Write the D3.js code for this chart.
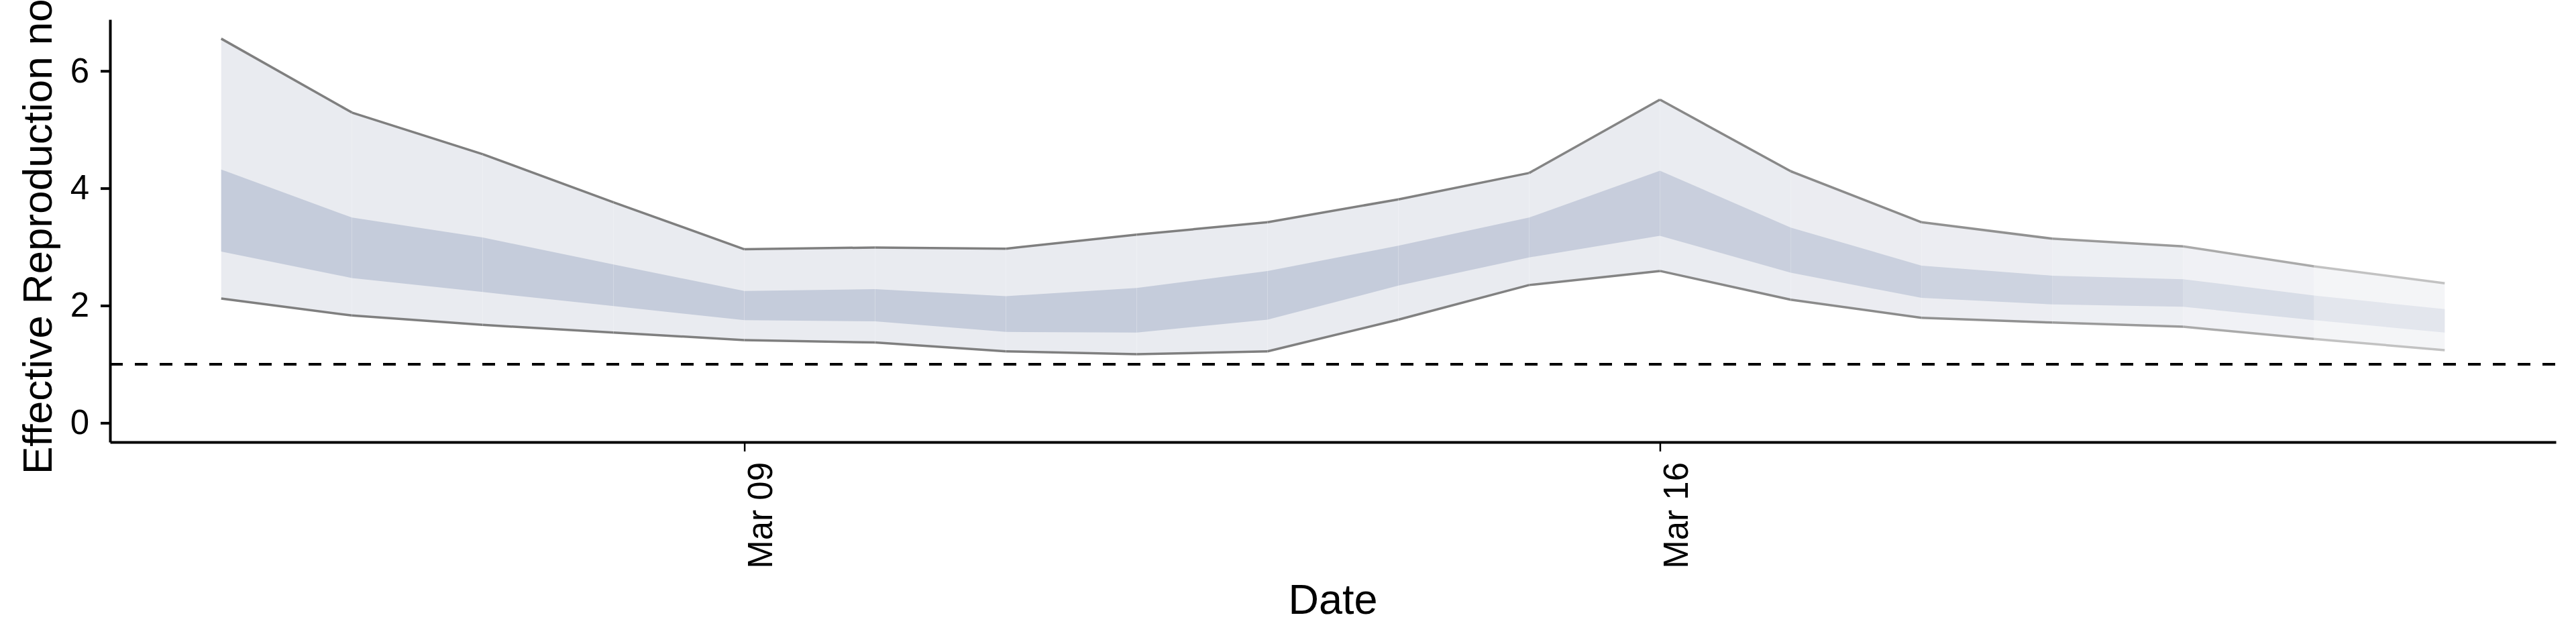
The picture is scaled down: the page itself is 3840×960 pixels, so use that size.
<!DOCTYPE html>
<html>
<head>
<meta charset="utf-8">
<script src="https://cdn.jsdelivr.net/npm/d3@7"></script>
<style>
  html, body { margin: 0; padding: 0; background: #ffffff; }
  svg text { font-family: "Liberation Sans", Arial, Helvetica, sans-serif; fill: #000000; }
</style>
</head>
<body>
<div id="rt-chart"></div>
<script>
// dates of the estimates (Mar 05 - Mar 22)
var dates = ["2020-03-05", "2020-03-06", "2020-03-07", "2020-03-08", "2020-03-09", "2020-03-10",
             "2020-03-11", "2020-03-12", "2020-03-13", "2020-03-14", "2020-03-15", "2020-03-16",
             "2020-03-17", "2020-03-18", "2020-03-19", "2020-03-20", "2020-03-21", "2020-03-22"];

// 90% interval
var upper90 = [6.55, 5.29, 4.58, 3.76, 2.96, 2.99, 2.97, 3.21, 3.42, 3.81, 4.26, 5.51, 4.29, 3.42, 3.14, 3.01, 2.67, 2.38];
var lower90 = [2.12, 1.83, 1.67, 1.54, 1.41, 1.37, 1.22, 1.17, 1.22, 1.76, 2.35, 2.59, 2.10, 1.79, 1.71, 1.64, 1.43, 1.24];

// 50% interval
var upper50 = [4.32, 3.50, 3.16, 2.70, 2.25, 2.28, 2.16, 2.30, 2.59, 3.02, 3.50, 4.30, 3.33, 2.68, 2.51, 2.45, 2.17, 1.94];
var lower50 = [2.92, 2.47, 2.23, 1.99, 1.75, 1.73, 1.55, 1.54, 1.76, 2.34, 2.82, 3.19, 2.56, 2.13, 2.02, 1.98, 1.75, 1.54];

// confidence of each estimate (fades the last days)
var confidence = [1, 1, 1, 1, 1, 1, 1, 1, 1, 0.99, 0.98, 0.96, 0.93, 0.90, 0.86, 0.79, 0.66, 0.47];

// x axis breaks and y axis breaks
var xTickDates = ["2020-03-09", "2020-03-16"];
var yTicks = [0, 2, 4, 6];
var threshold = 1;

(function(){
  var width = 3840, height = 960;
  var margin = {top: 29, right: 30, bottom: 301, left: 164};
  var innerW = width - margin.left - margin.right;
  var innerH = height - margin.top - margin.bottom;

  var parseTime = d3.timeParse("%Y-%m-%d");

  var rows = [];
  for (var i = 0; i < dates.length; i++) {
    rows.push({date: parseTime(dates[i]), top90: upper90[i], bottom90: lower90[i],
               top50: upper50[i], bottom50: lower50[i], conf: confidence[i]});
  }

  var svg = d3.select("#rt-chart").append("svg")
              .attr("width", width)
              .attr("height", height);

  var g = svg.append("g")
             .attr("transform", "translate(" + margin.left + "," + margin.top + ")");

  // ggplot style 5% expansion on both scales
  var xExt = d3.extent(rows, function(d){ return d.date; });
  var xPad = (xExt[1] - xExt[0]) * 0.05;
  var x = d3.scaleTime()
            .domain([new Date(+xExt[0] - xPad), new Date(+xExt[1] + xPad)])
            .range([0, innerW]);

  var yMax = d3.max(upper90), yMin = 0;
  var yPad = (yMax - yMin) * 0.05;
  var y = d3.scaleLinear()
            .domain([yMin - yPad, yMax + yPad])
            .range([innerH, 0]);

  var outerArea = d3.area()
                    .x(function(d){ return x(d.date); })
                    .y0(function(d){ return y(d.bottom90); })
                    .y1(function(d){ return y(d.top90); });
  var innerArea = d3.area()
                    .x(function(d){ return x(d.date); })
                    .y0(function(d){ return y(d.bottom50); })
                    .y1(function(d){ return y(d.top50); });
  var topLine = d3.line()
                  .x(function(d){ return x(d.date); })
                  .y(function(d){ return y(d.top90); });
  var bottomLine = d3.line()
                     .x(function(d){ return x(d.date); })
                     .y(function(d){ return y(d.bottom90); });

  // one piece per day, each faded by its confidence
  for (var j = 0; j < rows.length - 1; j++) {
    var seg = [rows[j], rows[j + 1]];
    var piece = g.append("g").attr("opacity", rows[j + 1].conf);
    piece.append("path").datum(seg).attr("d", outerArea).attr("fill", "#e9ebf0");
    piece.append("path").datum(seg).attr("d", innerArea).attr("fill", "#c5ccdb");
    piece.append("path").datum(seg).attr("d", topLine)
         .attr("fill", "none").attr("stroke", "#7f7f7f").attr("stroke-width", 3.5);
    piece.append("path").datum(seg).attr("d", bottomLine)
         .attr("fill", "none").attr("stroke", "#7f7f7f").attr("stroke-width", 3.5);
  }

  // R = 1 reference line
  g.append("line")
   .attr("x1", 0).attr("x2", innerW)
   .attr("y1", y(threshold)).attr("y2", y(threshold))
   .attr("stroke", "#000000")
   .attr("stroke-width", 4)
   .attr("stroke-dasharray", "19,18");

  // x axis
  var xAxis = g.append("g")
               .attr("transform", "translate(0," + innerH + ")")
               .call(d3.axisBottom(x)
                       .tickValues(xTickDates.map(parseTime))
                       .tickFormat(d3.timeFormat("%b %d"))
                       .tickSize(14)
                       .tickSizeOuter(0));
  xAxis.select(".domain").attr("stroke-width", 4).attr("stroke", "#000000");
  xAxis.selectAll(".tick line").attr("stroke-width", 2.5).attr("stroke", "#000000");
  xAxis.selectAll(".tick text")
       .attr("font-size", 51)
       .attr("text-anchor", "end")
       .attr("transform", "rotate(-90)")
       .attr("x", -30)
       .attr("y", 0)
       .attr("dy", "0.8em");

  // y axis
  var yAxis = g.append("g")
               .call(d3.axisLeft(y)
                       .tickValues(yTicks)
                       .tickSize(14)
                       .tickPadding(17)
                       .tickSizeOuter(0));
  yAxis.select(".domain").attr("stroke-width", 4).attr("stroke", "#000000");
  yAxis.selectAll(".tick line").attr("stroke-width", 4).attr("stroke", "#000000");
  yAxis.selectAll(".tick text").attr("font-size", 51);

  // axis titles
  svg.append("text")
     .attr("text-anchor", "middle")
     .attr("font-size", 63)
     .attr("x", margin.left + innerW / 2)
     .attr("y", 915)
     .text("Date");

  svg.append("text")
     .attr("text-anchor", "middle")
     .attr("font-size", 62)
     .attr("transform", "translate(77," + (margin.top + innerH / 2) + ")rotate(-90)")
     .text("Effective Reproduction no.");
})();
</script>
</body>
</html>
